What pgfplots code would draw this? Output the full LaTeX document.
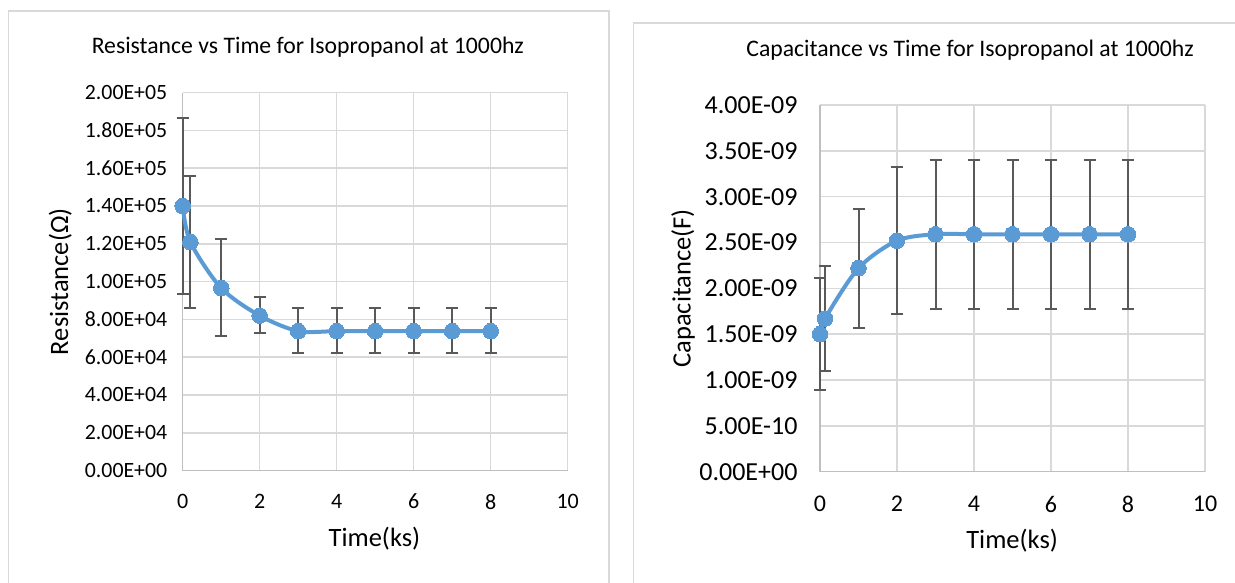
\documentclass[border=0pt]{standalone}
\usepackage{pgfplots}
\pgfplotsset{compat=1.18}
\usepackage{fontspec}
\setmainfont{Carlito}
\definecolor{lineblue}{HTML}{5B9BD5}
\definecolor{errc}{HTML}{595959}
\definecolor{gridc}{HTML}{D9D9D9}
\definecolor{axisc}{HTML}{BFBFBF}
\definecolor{framec}{HTML}{D9D9D9}
\pgfplotsset{
  excel/.style={
    scale only axis, width=385pt,
    clip=false, enlargelimits=false,
    scaled y ticks=false, scaled x ticks=false,
    xmin=0, xmax=10,
    xtick={0,2,4,6,8,10}, xticklabels={0,2,4,6,8,10},
    axis x line=bottom, axis y line=left,
    axis line style={color=axisc, line width=1.5pt, -},
    grid=major, major grid style={color=gridc, line width=1.5pt},
    major tick length=0pt,
    title style={font=\fontsize{23.7}{26}\selectfont},
    label style={font=\fontsize{26.5}{28}\selectfont},
  },
  errstyle/.style={only marks, mark=none, color=errc, line width=2pt,
    error bars/.cd, y dir=both, y explicit,
    error bar style={color=errc, line width=2pt},
    error mark options={rotate=90, mark size=6pt, color=errc, line width=2pt}},
  linestyle/.style={color=lineblue, line width=4pt, smooth, tension=0.5,
    mark=*, mark size=7.8pt, mark options={fill=lineblue, draw=lineblue, line width=0pt}},
}
\begin{document}
\begin{tikzpicture}
\useasboundingbox (0pt,0pt) rectangle (1235pt,583pt);
\fill[white] (0pt,0pt) rectangle (1235pt,583pt);
\draw[framec, line width=1.5pt] (8.6pt,-5pt) -- (8.6pt,572pt) -- (609pt,572pt) -- (609pt,-5pt);
\draw[framec, line width=1.5pt] (633.7pt,-5pt) -- (633.7pt,560pt) -- (1240pt,560pt);
\begin{axis}[excel, at={(182.7pt,112.4pt)}, anchor=south west, height=378pt,
  xticklabel style={font=\fontsize{22}{24}\selectfont, yshift=-20pt},
  yticklabel style={font=\fontsize{21.8}{24}\selectfont, xshift=-12pt},
  ymin=0, ymax=200000,
  ytick={0,20000,40000,60000,80000,100000,120000,140000,160000,180000,200000},
  yticklabels={0.00E+00,2.00E+04,4.00E+04,6.00E+04,8.00E+04,1.00E+05,1.20E+05,1.40E+05,1.60E+05,1.80E+05,2.00E+05},
  title={Resistance vs Time for Isopropanol at 1000hz},
  title style={at={(axis description cs:0.325,1.104)}, anchor=center},
  xlabel={Time(ks)}, xlabel style={at={(axis description cs:0.498,-0.181)}, anchor=center},
  ylabel={Resistance(Ω)}, ylabel style={at={(axis description cs:-0.318,0.5)}, anchor=center, rotate=0},
]
\addplot[errstyle] table[x=t, y=r, y error plus=ep, y error minus=em] {
t r ep em
0 140000 46800 46700
0.2 120900 35100 34900
1 96600 25700 25400
2 82000 10100 9200
3 73800 12000 11700
4 73800 12000 11700
5 73800 12000 11700
6 73800 12000 11700
7 73800 12000 11700
8 73800 12000 11700
};
\addplot[linestyle] table[x=t, y=r] {
t r
0 140000
0.2 120900
1 96600
2 82000
3 73800
4 73800
5 73800
6 73800
7 73800
8 73800
};
\end{axis}
\begin{axis}[excel, at={(820pt,111.3pt)}, anchor=south west, height=366.7pt,
  xticklabel style={font=\fontsize{24}{26}\selectfont, yshift=-21pt},
  yticklabel style={font=\fontsize{26}{28}\selectfont, xshift=-19pt},
  ymin=0, ymax=4e-9,
  ytick={0,5e-10,1e-9,1.5e-9,2e-9,2.5e-9,3e-9,3.5e-9,4e-9},
  yticklabels={0.00E+00,5.00E-10,1.00E-09,1.50E-09,2.00E-09,2.50E-09,3.00E-09,3.50E-09,4.00E-09},
  title={Capacitance vs Time for Isopropanol at 1000hz},
  title style={at={(axis description cs:0.39,1.132)}, anchor=center},
  xlabel={Time(ks)}, xlabel style={at={(axis description cs:0.499,-0.189)}, anchor=center},
  ylabel={Capacitance(F)}, ylabel style={at={(axis description cs:-0.356,0.5)}, anchor=center, rotate=0},
]
\addplot[errstyle] table[x=t, y=c, y error plus=ep, y error minus=em] {
t c ep em
0 1.50e-9 0.61e-9 0.61e-9
0.13 1.67e-9 0.57e-9 0.57e-9
1 2.22e-9 0.65e-9 0.65e-9
2 2.52e-9 0.80e-9 0.80e-9
3 2.59e-9 0.815e-9 0.815e-9
4 2.59e-9 0.815e-9 0.815e-9
5 2.59e-9 0.815e-9 0.815e-9
6 2.59e-9 0.815e-9 0.815e-9
7 2.59e-9 0.815e-9 0.815e-9
8 2.59e-9 0.815e-9 0.815e-9
};
\addplot[linestyle] table[x=t, y=c] {
t c
0 1.50e-9
0.13 1.67e-9
1 2.22e-9
2 2.52e-9
3 2.59e-9
4 2.59e-9
5 2.59e-9
6 2.59e-9
7 2.59e-9
8 2.59e-9
};
\end{axis}
\end{tikzpicture}
\end{document}
